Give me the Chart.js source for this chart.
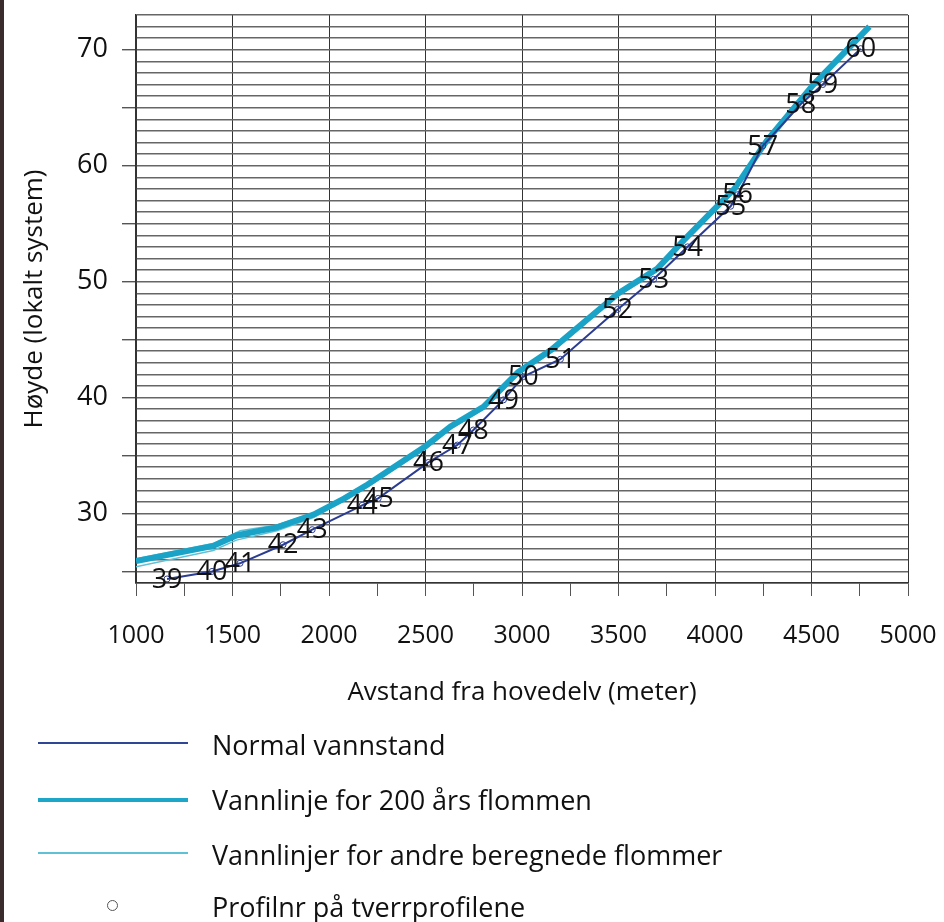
<!DOCTYPE html>
<html>
<head>
<meta charset="utf-8">
<script src="https://cdn.jsdelivr.net/npm/chart.js@4.4.1/dist/chart.umd.min.js"></script>
<style>
  body { margin: 0; background: #fff; }
  #page { position: relative; width: 944px; height: 922px; overflow: hidden; font-family: "Open Sans", sans-serif; }
  #edge { position: absolute; left: 0; top: 0; width: 4px; height: 922px; background: #3a2c2c; }
  #chart { position: absolute; left: 0; top: 0; }
  .leg { position: absolute; left: 0; height: 54px; width: 944px; }
  .leg .sample { position: absolute; left: 38px; width: 150px; }
  .leg .dot { position: absolute; left: 107px; width: 9px; height: 9px; border: 1.5px solid #555; border-radius: 50%; background: #fff; }
  .leg span { position: absolute; left: 212px; font-size: 27px; color: #111; line-height: 32px; white-space: nowrap; }
</style>
</head>
<body>
<div id="page">
  <canvas id="chart" width="944" height="715"></canvas>
  <div id="edge"></div>
  <div class="leg" style="top:728px"><div class="sample" style="top:14px;height:2px;background:#2f4595"></div><span style="top:1px">Normal vannstand</span></div>
  <div class="leg" style="top:784px"><div class="sample" style="top:14px;height:4px;background:#1da6c8"></div><span style="top:0px">Vannlinje for 200 års flommen</span></div>
  <div class="leg" style="top:838px"><div class="sample" style="top:14px;height:2px;background:#5fc1d6"></div><span style="top:1px">Vannlinjer for andre beregnede flommer</span></div>
  <div class="leg" style="top:891px"><div class="dot" style="top:9px"></div><span style="top:0px">Profilnr på tverrprofilene</span></div>
</div>
<script>
// profilnummer og normal vannstand
const profiles = [39, 40, 41, 42, 43, 44, 45, 46, 47, 48, 49, 50, 51, 52, 53, 54, 55, 56, 57, 58, 59, 60];
const normalX = [1161, 1394, 1539, 1762, 1913, 2172, 2255, 2515, 2665, 2748, 2904, 3007, 3199, 3495, 3682, 3858, 4081, 4117, 4247, 4444, 4558, 4755];
const normalY = [24.35, 25.0, 25.7, 27.3, 28.6, 30.7, 31.3, 34.4, 35.9, 37.2, 39.8, 41.8, 43.3, 47.6, 50.2, 53.0, 56.5, 57.5, 61.7, 65.3, 67.0, 70.1];

// 200 års flom
const flood200X = [1000, 1400, 1520, 1730, 1920, 2080, 2200, 2500, 2630, 2800, 2980, 3150, 3500, 3700, 3840, 4100, 4270, 4510, 4800];
const flood200Y = [25.9, 27.2, 28.1, 28.8, 29.9, 31.3, 32.5, 35.8, 37.5, 39.2, 42.2, 44.1, 49.0, 51.1, 53.6, 58.0, 62.2, 67.0, 72.0];

// andre beregnede flommer
const floodLowX = [1000, 1400, 1520, 1730, 1920, 2080, 2200, 2500, 2630, 2800, 2980, 3150, 3500, 3700, 3840, 4100, 4270, 4510, 4780];
const floodLowY = [25.4, 26.8, 27.7, 28.5, 29.65, 31.1, 32.3, 35.6, 37.3, 39.0, 42.0, 43.9, 48.8, 50.9, 53.4, 57.8, 62.0, 66.8, 71.7];
const floodHighX = [1000, 1400, 1540, 1730, 1920, 2080, 2200, 2500, 2630, 2800, 2980, 3150, 3500, 3700, 3840, 4100, 4270, 4510, 4790];
const floodHighY = [26.1, 27.4, 28.5, 29.0, 30.05, 31.45, 32.65, 35.95, 37.65, 39.35, 42.35, 44.25, 49.15, 51.25, 53.75, 58.15, 62.35, 67.15, 72.1];

const xTickLabels = [1000, 1500, 2000, 2500, 3000, 3500, 4000, 4500, 5000];
const yTickLabels = [30, 40, 50, 60, 70];

function pts(xs, ys) {
  return xs.map((x, i) => ({ x: x, y: ys[i] }));
}

const profileLabels = {
  id: 'profileLabels',
  afterDatasetsDraw(chart) {
    const ctx = chart.ctx;
    const meta = chart.getDatasetMeta(0);
    ctx.save();
    ctx.font = '27px "Open Sans", sans-serif';
    ctx.fillStyle = '#111';
    ctx.textAlign = 'center';
    ctx.textBaseline = 'middle';
    meta.data.forEach((el, i) => {
      ctx.fillText(String(profiles[i]), el.x, el.y + 1);
    });
    ctx.restore();
  }
};

new Chart(document.getElementById('chart'), {
  type: 'line',
  data: {
    datasets: [
      { label: 'Normal vannstand', data: pts(normalX, normalY), borderColor: '#2b3d92', borderWidth: 2,
        pointRadius: 3, pointBorderColor: '#2b3d92', pointBackgroundColor: 'rgba(255,255,255,0)', pointBorderWidth: 1, tension: 0 },
      { label: 'Vannlinje for 200 års flommen', data: pts(flood200X, flood200Y), borderColor: '#1aa3c6', borderWidth: 6, pointRadius: 0, tension: 0 },
      { label: 'andre1', data: pts(floodLowX, floodLowY), borderColor: '#5fc1d6', borderWidth: 1.5, pointRadius: 0, tension: 0 },
      { label: 'andre2', data: pts(floodHighX, floodHighY), borderColor: '#5fc1d6', borderWidth: 1.5, pointRadius: 0, tension: 0 }
    ]
  },
  options: {
    responsive: false,
    animation: false,
    layout: { padding: { left: 4, top: 15, right: 36, bottom: 0 } },
    plugins: { legend: { display: false }, tooltip: { enabled: false } },
    scales: {
      x: {
        type: 'linear',
        min: 1000,
        max: 5000,
        afterFit(scale) {
          scale.height = 132;
          scale.paddingLeft = 0;
          scale.paddingRight = 0;
        },
        ticks: {
          stepSize: 250,
          autoSkip: false,
          maxRotation: 0,
          padding: 25,
          color: '#111',
          font: { family: 'Open Sans', size: 25 },
          callback: v => xTickLabels.includes(v) ? v : ''
        },
        grid: {
          color: c => (c.tick && c.tick.value % 500 === 0) ? '#333' : 'rgba(0,0,0,0)',
          tickColor: '#555',
          tickLength: 13,
          lineWidth: 1
        },
        border: { color: '#333', width: 1.5 },
        title: {
          display: true,
          text: 'Avstand fra hovedelv (meter)',
          color: '#111',
          font: { family: 'Open Sans', size: 26 },
          padding: { top: 0, bottom: 7 }
        }
      },
      y: {
        min: 24,
        max: 73,
        afterFit(scale) {
          scale.width = 132;
          scale.paddingTop = 0;
          scale.paddingBottom = 0;
        },
        ticks: {
          stepSize: 1,
          autoSkip: false,
          padding: 14,
          color: '#111',
          font: { family: 'Open Sans', size: 27 },
          callback: v => yTickLabels.includes(v) ? v : ''
        },
        grid: {
          color: '#666',
          lineWidth: 1.4,
          tickColor: c => (c.tick && c.tick.value % 5 === 0) ? '#555' : 'rgba(0,0,0,0)',
          tickLength: 14
        },
        border: { color: '#333', width: 1.5 },
        title: {
          display: true,
          text: 'Høyde (lokalt system)',
          color: '#111',
          font: { family: 'Open Sans', size: 26 },
          padding: { top: 15, bottom: 0 }
        }
      }
    }
  },
  plugins: [profileLabels]
});
</script>
</body>
</html>
